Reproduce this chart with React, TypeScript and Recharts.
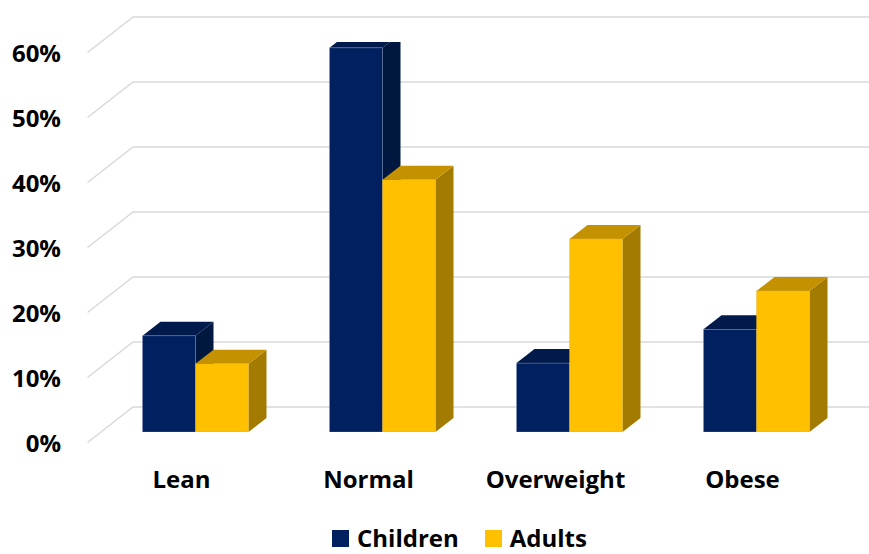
import React from 'react';
import { BarChart, Bar, XAxis, YAxis, CartesianGrid, Legend } from 'recharts';

const categories = ['Lean', 'Normal', 'Overweight', 'Obese'];
const seriesNames = ['Children', 'Adults'];
const childrenValues = [0.148, 0.591, 0.106, 0.158];
const adultsValues = [0.105, 0.388, 0.297, 0.217];
const yTicks = [0, 0.1, 0.2, 0.3, 0.4, 0.5, 0.6];
const tickLabels = ['0%', '10%', '20%', '30%', '40%', '50%', '60%'];

const data = categories.map((c, i) => ({ name: c, Children: childrenValues[i], Adults: adultsValues[i] }));

const FONT = '"Open Sans", "Noto Sans", sans-serif';
const DX = 18;
const DY = 14;

const palettes: Record<string, { front: string; top: string; side: string; edge: string }> = {
  Children: { front: '#00205F', top: '#001A4B', side: '#00173F', edge: '#8E9CC4' },
  Adults: { front: '#FFC000', top: '#C49200', side: '#A37B00', edge: '#E0B030' },
};

const make3D = (key: string) => (props: any) => {
  const { x, y, width, height } = props;
  const p = palettes[key];
  if (height == null || width == null) return null;
  const top = `${x},${y} ${x + DX},${y - DY} ${x + width + DX},${y - DY} ${x + width},${y}`;
  const side = `${x + width},${y} ${x + width + DX},${y - DY} ${x + width + DX},${y + height - DY} ${x + width},${y + height}`;
  return (
    <g>
      <polygon points={side} fill={p.side} />
      <polygon points={top} fill={p.top} />
      <rect x={x} y={y} width={width} height={height} fill={p.front} stroke={p.edge} strokeWidth={0.6} strokeOpacity={0.6} />
    </g>
  );
};

const gridLine = (props: any) => {
  const { y1, key } = props;
  const d = `M 87.5 ${y1 + 10.5} L 133 ${y1 - 25} L 869 ${y1 - 25}`;
  return <path key={key} d={d} fill="none" stroke="#D9D9D9" strokeWidth={1.5} />;
};

const YTick = (props: any) => {
  const { y, payload } = props;
  const idx = yTicks.indexOf(payload.value);
  return (
    <text x={61} y={y + 10.5} textAnchor="end" dominantBaseline="central" fontFamily={FONT} fontWeight={700} fontSize={24} fill="#000">
      {tickLabels[idx] ?? ''}
    </text>
  );
};

const XTick = (props: any) => {
  const { x, payload } = props;
  return (
    <text x={x - 13.5} y={488} textAnchor="middle" fontFamily={FONT} fontWeight={700} fontSize={24} fill="#000">
      {payload.value}
    </text>
  );
};

const LegendContent = (props: any) => {
  const items = [...(props.payload || [])].sort(
    (a: any, b: any) => seriesNames.indexOf(a.value) - seriesNames.indexOf(b.value)
  );
  return (
    <div style={{ paddingLeft: 332, display: 'flex', alignItems: 'center', fontFamily: FONT, fontWeight: 700, fontSize: 24, lineHeight: 'normal' }}>
      {items.map((it: any, i: number) => (
        <div key={i} style={{ display: 'flex', alignItems: 'center', marginRight: 26 }}>
          <div style={{ width: 17, height: 17, background: palettes[it.value].front, marginRight: 8, marginTop: 1 }} />
          <span style={{ color: '#000' }}>{it.value}</span>
        </div>
      ))}
    </div>
  );
};

export default function App() {
  return (
    <div style={{ position: 'absolute', left: 0, top: 0, width: 869, height: 554, background: '#fff' }}>
      <BarChart
        width={869}
        height={554}
        data={data}
        margin={{ top: 42, right: 19.5, bottom: 0, left: 0 }}
        barGap={0}
        barSize={53}
      >
        <CartesianGrid vertical={false} horizontal={gridLine} />
        <XAxis dataKey="name" axisLine={false} tickLine={false} height={89} tick={<XTick />} interval={0} />
        <YAxis
          domain={[0, 0.6]}
          ticks={yTicks}
          width={101.5}
          axisLine={false}
          tickLine={false}
          tick={<YTick />}
          allowDataOverflow
        />
        <Legend verticalAlign="bottom" content={<LegendContent />} />
        <Bar dataKey="Children" fill="#00205F" shape={make3D('Children')} isAnimationActive={false} />
        <Bar dataKey="Adults" fill="#FFC000" shape={make3D('Adults')} isAnimationActive={false} />
      </BarChart>
    </div>
  );
}
